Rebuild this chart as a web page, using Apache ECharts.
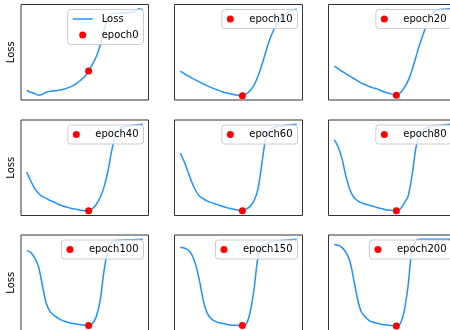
<!DOCTYPE html>
<html>
<head>
<meta charset="utf-8">
<script src="https://cdn.jsdelivr.net/npm/echarts@6/dist/echarts.min.js"></script>
<style>
  html, body { margin: 0; padding: 0; overflow: hidden; background: #fff; }
  #chart { width: 458px; height: 334px; }
</style>
</head>
<body>
<div id="chart"></div>
<script>
// snapshots of the loss curve, one per epoch
const epochs = [0, 10, 20, 40, 60, 80, 100, 150, 200];
const steps = [0, 1, 2, 3, 4, 5, 6, 7, 8, 9, 10, 11, 12, 13, 14, 15, 16, 17, 18, 19, 20, 21, 22, 23, 24, 25, 26, 27, 28, 29, 30];
const dotStep = 16; // where the red marker sits

const loss0 = [6, 4, 2.5, 0.5, 1.5, 4, 5, 5.5, 6, 6.8, 8, 9.5, 11.5, 14.5, 18, 22, 28.5, 36, 45, 58, 76, 89, 94.5, 94.8, 95, 95.2, 95.5, 96, 97, 100, 99];
const loss10 = [28.4, 25.5, 22.8, 20.3, 17.8, 15.5, 13.3, 11.2, 9.3, 7.5, 5.8, 4.3, 3.1, 2, 1, 0.4, 0, 2, 6, 12, 22, 35, 50, 64, 75, 84, 90, 94, 96.5, 98.5, 100];
const loss20 = [34, 31, 28, 25, 22.5, 20, 17, 14.5, 12.5, 10.5, 9, 7.8, 6, 4.2, 2.8, 1.5, 0.5, 3, 9, 17, 29, 44, 59, 72, 84, 93, 97.5, 99, 99.5, 99.8, 100];
const loss40 = [45, 35, 26.5, 20.5, 17, 14.8, 12.5, 10.5, 8.3, 6.5, 5, 3.8, 2.9, 2, 1.2, 0.6, 0.5, 3, 8, 16, 28, 46, 70, 88, 95, 97.2, 98, 98.6, 99.2, 99.6, 100];
const loss60 = [67, 57, 45, 33, 23.5, 17, 14, 11.5, 9.8, 8.3, 6.8, 5.4, 4.1, 3, 2, 1, 0.5, 2.5, 5.5, 12, 25, 54, 83, 93, 96.3, 97.5, 98.2, 98.8, 99.3, 99.7, 100];
const loss80 = [82, 74, 60, 40, 25, 16, 12, 9.5, 8, 6.8, 5.5, 4.3, 3.2, 2, 1.2, 0.8, 0.6, 2.5, 9, 17, 40, 72, 89, 94.5, 96.5, 97.6, 98.3, 98.8, 99.3, 99.7, 100];
const loss100 = [87, 85, 79, 69, 48, 27, 17, 12.5, 9.5, 7, 5.3, 4, 3, 2.2, 1.5, 1, 0.8, 3, 11, 30, 64, 88, 97, 98.5, 99, 99.3, 99.5, 99.6, 99.7, 99.9, 100];
const loss150 = [91, 90, 88, 82, 70, 51, 28, 14.5, 8.5, 5.5, 4, 3, 2, 1.4, 1, 0.9, 0.8, 2.5, 16, 42, 79, 91, 94.5, 96.5, 97.5, 98.2, 98.7, 99.1, 99.5, 99.8, 100];
const loss200 = [94, 93, 90.5, 85, 75, 54, 31, 16, 10.5, 6.5, 4.5, 3.3, 2.3, 1.6, 1, 0.5, 0.3, 3, 17, 46, 87, 98, 100, 100, 100, 100, 100, 100, 100, 100, 100];

const curves = [loss0, loss10, loss20, loss40, loss60, loss80, loss100, loss150, loss200];

const W = 458;
const cellLeft = [21, 174.5, 328.5];
const cellTop = [4.5, 120, 235];
const cellW = [127.5, 128, 128];
const cellH = 95.5;
const font = 'DejaVu Sans';

const grid = [];
const xAxis = [];
const yAxis = [];
const series = [];
const legend = [];

curves.forEach((curve, i) => {
  const col = i % 3;
  const row = Math.floor(i / 3);
  grid.push({
    left: cellLeft[col],
    top: cellTop[row],
    width: cellW[col],
    height: cellH,
    show: true,
    borderColor: '#333',
    borderWidth: 1,
    backgroundColor: '#fff',
  });
  xAxis.push({
    gridIndex: i,
    type: 'value',
    min: -1.5, // 5% margin like matplotlib
    max: 31.5,
    axisLine: { show: false },
    axisTick: { show: false },
    axisLabel: { show: false },
    splitLine: { show: false },
  });
  yAxis.push({
    gridIndex: i,
    type: 'value',
    min: -5,
    max: 105,
    name: col === 0 ? 'Loss' : '',
    nameLocation: 'middle',
    nameGap: 5,
    nameTextStyle: { fontFamily: font, fontSize: 10, color: '#000' },
    axisLine: { show: false },
    axisTick: { show: false },
    axisLabel: { show: false },
    splitLine: { show: false },
  });
  const data = steps.map((s, k) => [s, curve[k]]);
  series.push({
    name: 'Loss',
    type: 'line',
    xAxisIndex: i,
    yAxisIndex: i,
    data,
    smooth: 0.3,
    symbol: 'none',
    lineStyle: { color: '#1E90FF', width: 1.5 },
    itemStyle: { color: '#1E90FF' },
    z: 2,
  });
  const ename = `epoch${epochs[i]}`;
  series.push({
    name: ename,
    type: 'scatter',
    xAxisIndex: i,
    yAxisIndex: i,
    data: [[steps[dotStep], curve[dotStep]]],
    symbolSize: 7,
    itemStyle: { color: '#FF0000', opacity: 1 },
    z: 3,
  });
  const items = [];
  if (i === 0) items.push({ name: 'Loss', icon: 'path://M0,0H20V1.5H0Z' });
  items.push({ name: ename, icon: 'circle' });
  legend.push({
    data: items,
    orient: 'vertical',
    right: W - (cellLeft[col] + cellW[col] - 5),
    top: cellTop[row] + 5,
    itemWidth: 20,
    itemHeight: 7,
    itemGap: 4,
    padding: [3.5, 5, 3.5, 5],
    backgroundColor: 'rgba(255,255,255,0.8)',
    borderColor: '#cccccc',
    borderWidth: 1,
    borderRadius: 3,
    selectedMode: false,
    textStyle: { fontFamily: font, fontSize: 10, color: '#000', lineHeight: 12, padding: [0, 0, 0, 4] },
  });
});

const myChart = echarts.init(document.getElementById('chart'), null, { renderer: 'canvas' });
myChart.setOption({
  animation: false,
  backgroundColor: '#fff',
  grid,
  xAxis,
  yAxis,
  legend,
  series,
});
</script>
</body>
</html>
